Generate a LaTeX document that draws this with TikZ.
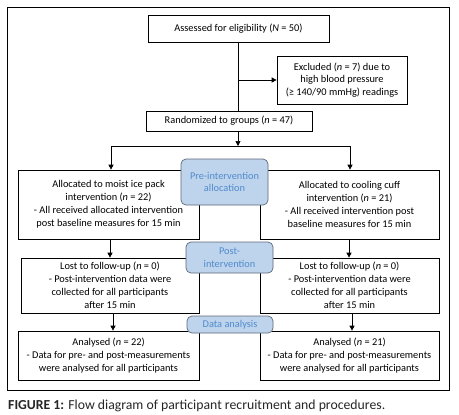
\documentclass[tikz,border=0pt]{standalone}
\usepackage{fontspec}
\setmainfont{Carlito}
\usetikzlibrary{arrows.meta,positioning}

\begin{document}
\begin{tikzpicture}[x=1bp, y=-1bp, every node/.style={font=\fontsize{10.4}{12.9}\selectfont},
        box/.style={draw=black, fill=white, line width=0.7pt, align=center, inner sep=1pt},
        tagbox/.style={draw=tagline, fill=tagfill, line width=0.7pt, rounded corners=5pt, align=center, text=tagtext, inner sep=1pt},
        arr/.style={-{Triangle[length=5pt,width=5pt]}, line width=0.7pt}]
        \definecolor{tagfill}{RGB}{190,211,236}
        \definecolor{tagline}{RGB}{95,105,120}
        \definecolor{tagtext}{RGB}{80,140,205}

        \useasboundingbox (0,0) rectangle (459,414);
        % Outer frame
        \draw[line width=0.7pt] (7,7) rectangle (449,390);

        % Enrolment
        \node[box, minimum width=181bp, minimum height=27bp] (assess) at (238.5,28.5) {Assessed for eligibility (\textit{N} = 50)};
        \node[box, minimum width=130bp, minimum height=48bp] (excl) at (342,80) {Excluded (\textit{n} = 7) due to\\high blood pressure\\(≥ 140/90 mmHg) readings};
        \node[box, minimum width=166bp, minimum height=20bp] (rand) at (229,121) {Randomized to groups (\textit{n} = 47)};

        % Allocation
        \node[box, minimum width=181bp, minimum height=69bp] (alloc1) at (108.5,204.5) {Allocated to moist ice pack\\intervention (\textit{n} = 22)\\- All received allocated intervention\\post baseline measures for 15 min};
        \node[box, minimum width=179bp, minimum height=69bp] (alloc2) at (349.5,204.5) {Allocated to cooling cuff\\intervention (\textit{n} = 21)\\- All received intervention post\\baseline measures for 15 min};

        % Follow-up
        \node[box, minimum width=178bp, minimum height=55bp] (lost1) at (110,285.5) {Lost to follow-up (\textit{n} = 0)\\- Post-intervention data were\\collected for all participants\\after 15 min};
        \node[box, minimum width=179bp, minimum height=55bp] (lost2) at (349.5,285.5) {Lost to follow-up (\textit{n} = 0)\\- Post-intervention data were\\collected for all participants\\after 15 min};

        % Analysis
        \node[box, minimum width=181bp, minimum height=49bp] (anal1) at (108.5,355.5) {Analysed (\textit{n} = 22)\\- Data for pre- and post-measurements\\were analysed for all participants};
        \node[box, minimum width=179bp, minimum height=49bp] (anal2) at (349.5,355.5) {Analysed (\textit{n} = 21)\\- Data for pre- and post-measurements\\were analysed for all participants};

        % Stage labels
        \node[tagbox, minimum width=87bp, minimum height=46bp] (pre) at (224.5,182) {Pre-intervention\\allocation};
        \node[tagbox, minimum width=87bp, minimum height=31bp] (post) at (229.5,257.5) {Post-\\intervention};
        \node[tagbox, minimum width=86bp, minimum height=17bp] (datan) at (230,324.5) {Data analysis};

        % Connectors
        \coordinate (split) at (238,146);
        \coordinate (splitL) at (111,146);
        \coordinate (splitR) at (350,146);
        \draw[line width=0.7pt] (assess.south) -- (assess.south |- rand.north);
        \draw[arr] (assess.south |- excl.west) -- (excl.west);
        \draw[arr] (rand.south -| split) -- (split);
        \draw[line width=0.7pt] (splitL) -- (splitR);
        \draw[arr] (splitL) -- (splitL |- alloc1.north);
        \draw[arr] (splitR) -- (splitR |- alloc2.north);
        \draw[arr] (alloc1.south -| 110,0) -- (lost1.north -| 110,0);
        \draw[arr] (alloc2.south -| 349,0) -- (lost2.north -| 349,0);
        \draw[arr] (lost1.south -| 113,0) -- (anal1.north -| 113,0);
        \draw[arr] (lost2.south -| 352,0) -- (anal2.north -| 352,0);

        % Caption
        \node[anchor=base west, inner sep=0pt, font=\fontsize{13.8}{15}\selectfont, text=black!85] (cap) at (8,409) {\textbf{FIGURE 1:} Flow diagram of participant recruitment and procedures.};
\end{tikzpicture}
\end{document}
